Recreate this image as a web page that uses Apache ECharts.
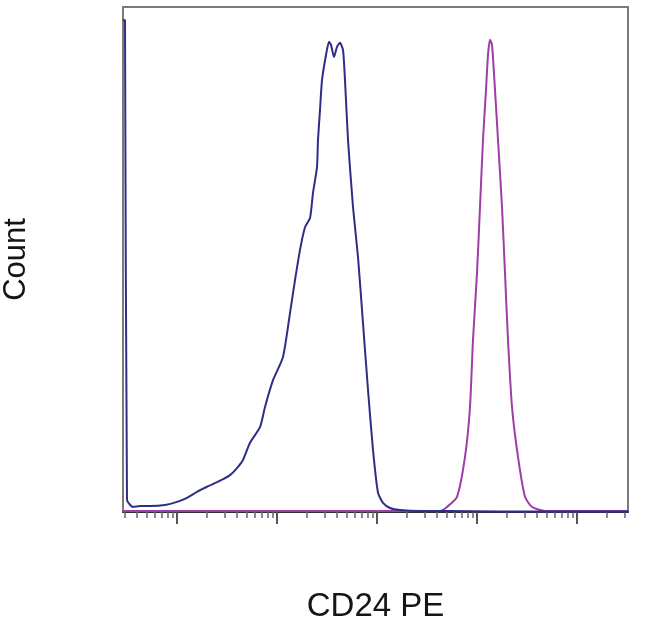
<!DOCTYPE html>
<html>
<head>
<meta charset="utf-8">
<script src="https://cdn.jsdelivr.net/npm/echarts@6/dist/echarts.min.js"></script>
<style>
  html, body { margin: 0; padding: 0; background: #fff; }
  #chart { width: 650px; height: 631px; }
</style>
</head>
<body>
<div id="chart"></div>
<script>
// x values are log10 of CD24 PE intensity, y values are relative counts (0-100)
var unstainedX = [0.46, 0.48, 0.50, 0.56, 0.63, 0.73, 0.88, 1.00, 1.10, 1.20, 1.30, 1.40, 1.46, 1.53, 1.60, 1.66, 1.73, 1.83, 1.88, 1.96, 2.06, 2.13, 2.18, 2.23, 2.28, 2.33, 2.36, 2.40, 2.41, 2.43, 2.45, 2.49, 2.52, 2.54, 2.57, 2.60, 2.63, 2.66, 2.68, 2.71, 2.76, 2.81, 2.86, 2.91, 2.96, 3.01, 3.06, 3.13, 3.23, 3.43, 3.73, 4.23, 5.51];
var unstainedY = [97.4, 97.4, 2.4, 1.0, 1.2, 1.2, 1.4, 2.0, 2.8, 4.0, 5.0, 5.9, 6.5, 7.3, 8.7, 10.3, 13.7, 16.8, 20.8, 26.1, 30.7, 39.4, 45.9, 51.9, 56.4, 58.2, 63.2, 68.3, 73.7, 79.6, 85.5, 90.5, 93.1, 92.5, 90.1, 92.1, 92.9, 91.5, 85.5, 73.7, 60.4, 50.5, 37.4, 24.2, 12.3, 3.8, 1.8, 0.8, 0.4, 0.2, 0.2, 0.1, 0.1];

var stainedX = [0.46, 3.63, 3.70, 3.80, 3.88, 3.93, 3.96, 4.00, 4.03, 4.06, 4.09, 4.11, 4.13, 4.15, 4.18, 4.21, 4.25, 4.28, 4.31, 4.35, 4.41, 4.48, 4.55, 4.68, 5.51];
var stainedY = [0.2, 0.2, 1.0, 3.0, 10.9, 20.8, 34.1, 47.3, 60.4, 73.7, 83.6, 90.5, 93.5, 92.5, 83.6, 73.7, 60.4, 47.3, 34.1, 20.8, 10.9, 3.0, 1.0, 0.2, 0.2];

var majorTicks = [1, 2, 3, 4, 5];
var xMin = 0.46, xMax = 5.51;

var minorTicks = [];
for (var d = 0; d <= 5; d++) {
  for (var k = 2; k <= 9; k++) {
    var v = d + Math.log10(k);
    if (v > xMin && v < xMax) minorTicks.push(v);
  }
}

function pairs(xs, ys) {
  var out = [];
  for (var i = 0; i < xs.length; i++) out.push([xs[i], ys[i]]);
  return out;
}

var myChart = echarts.init(document.getElementById("chart"));
var option = {
  animation: false,
  grid: {
    left: 123, right: 22, top: 7, bottom: 119,
    outerBoundsMode: "none", containLabel: false,
    show: true, borderColor: "#7a7a7a", borderWidth: 2
  },
  xAxis: [
    {
      type: "value", min: xMin, max: xMax,
      name: "CD24 PE", nameLocation: "middle", nameGap: 78,
      nameTextStyle: { fontFamily: "Liberation Sans", fontSize: 33, color: "#151515" },
      splitLine: { show: false },
      axisLine: { show: true, lineStyle: { color: "#2b2b3a", width: 2 } },
      axisTick: { show: true, customValues: majorTicks, length: 12, lineStyle: { color: "#555", width: 2 } },
      axisLabel: { show: false }
    },
    {
      type: "value", min: xMin, max: xMax, position: "bottom",
      splitLine: { show: false },
      axisLine: { show: false },
      axisTick: { show: true, customValues: minorTicks, length: 6, lineStyle: { color: "#666", width: 1.5 } },
      axisLabel: { show: false }
    }
  ],
  yAxis: {
    type: "value", min: 0, max: 100,
    name: "Count", nameLocation: "middle", nameGap: 91,
    nameTextStyle: { fontFamily: "Liberation Sans", fontSize: 31, color: "#151515" },
    splitLine: { show: false },
    axisLine: { show: false },
    axisTick: { show: false },
    axisLabel: { show: false }
  },
  series: [
    {
      type: "line", xAxisIndex: 0, data: pairs(stainedX, stainedY),
      showSymbol: false, smooth: 0.2,
      lineStyle: { color: "#a03ca8", width: 2 }
    },
    {
      type: "line", xAxisIndex: 0, data: pairs(unstainedX, unstainedY),
      showSymbol: false, smooth: 0.2,
      lineStyle: { color: "#2e2e86", width: 2 }
    }
  ]
};
myChart.setOption(option);
</script>
</body>
</html>
